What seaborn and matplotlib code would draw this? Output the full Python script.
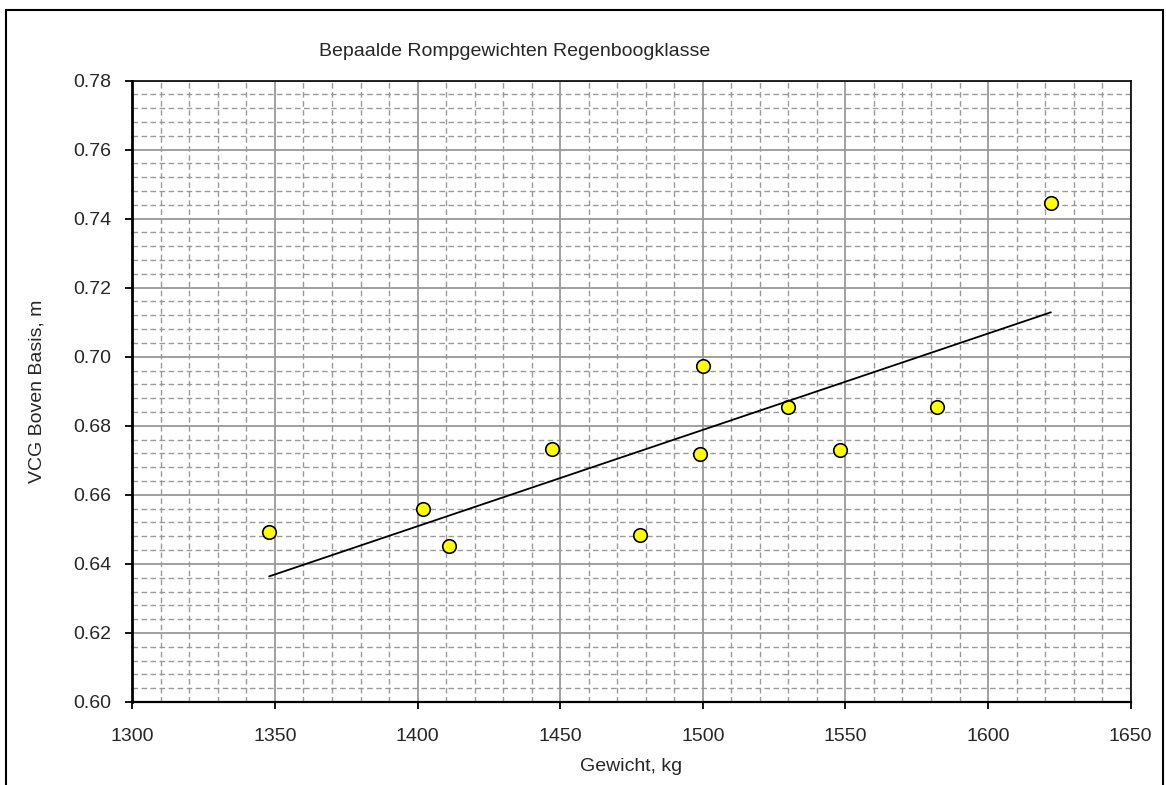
import numpy as np
import pandas as pd
import matplotlib
matplotlib.use("Agg")
import matplotlib.pyplot as plt
from matplotlib.ticker import MultipleLocator, FormatStrFormatter
from matplotlib.patches import Rectangle
import seaborn as sns

# Data
gewicht = [1348, 1402, 1411, 1447, 1478, 1499, 1500, 1530, 1548, 1582, 1622]
vcg = [0.6493, 0.6558, 0.6453, 0.6734, 0.6484, 0.6717, 0.6973, 0.6855, 0.6730, 0.6855, 0.7446]

title = "Bepaalde Rompgewichten Regenboogklasse"
xlabel = "Gewicht, kg"
ylabel = "VCG Boven Basis, m"

sns.set_style("white")
plt.rcParams['font.family'] = ['Liberation Sans', 'DejaVu Sans']

df = pd.DataFrame({"gewicht": gewicht, "vcg": vcg})

fig = plt.figure(figsize=(11.66, 7.85), dpi=100)
ax = fig.add_axes([132.3 / 1166, 1 - 702 / 785, (1130.7 - 132.3) / 1166, (702 - 80.5) / 785])

# Outer chart border
fig.patches.append(Rectangle((5.5 / 1166, -0.05), (1163 - 5.5) / 1166, 1.05 - 10 / 785,
                             transform=fig.transFigure, fill=False, edgecolor='black',
                             linewidth=1.5, zorder=0))

sns.scatterplot(data=df, x="gewicht", y="vcg", ax=ax, s=95, color="#ffff00",
                edgecolor="black", linewidth=1.2, zorder=3)
sns.regplot(data=df, x="gewicht", y="vcg", ax=ax, scatter=False, ci=None, truncate=True,
            line_kws=dict(color="black", linewidth=1.3, zorder=4))

ax.set_xlim(1300, 1650)
ax.set_ylim(0.60, 0.78)
ax.xaxis.set_major_locator(MultipleLocator(50))
ax.xaxis.set_minor_locator(MultipleLocator(10))
ax.yaxis.set_major_locator(MultipleLocator(0.02))
ax.yaxis.set_minor_locator(MultipleLocator(0.004))
ax.yaxis.set_major_formatter(FormatStrFormatter('%.2f'))

ax.grid(which='minor', color='#999999', linestyle=(0, (4, 2.5)), linewidth=1.0, zorder=0)
ax.grid(which='major', color='#999999', linestyle='-', linewidth=1.3, zorder=1)
ax.set_axisbelow(True)

ax.tick_params(which='major', direction='out', length=5, width=1.3, color='black',
               labelsize=14, left=True, bottom=True)
ax.tick_params(axis='x', which='major', pad=14)
ax.tick_params(axis='y', which='major', pad=10)
ax.tick_params(which='minor', length=0)

for side, lw in [('left', 2.0), ('bottom', 1.6), ('top', 1.2), ('right', 1.2)]:
    ax.spines[side].set_visible(True)
    ax.spines[side].set_color('black')
    ax.spines[side].set_linewidth(lw)

ax.set_xlabel(xlabel, fontsize=14, labelpad=9)
ax.set_ylabel(ylabel, fontsize=14, labelpad=20)
fig.text(515 / 1166, 1 - 52 / 785, title, fontsize=14, ha='center', va='center')

fig.savefig("out.png", dpi=100)
